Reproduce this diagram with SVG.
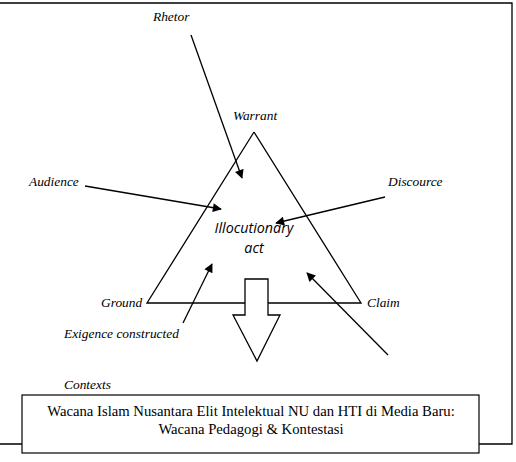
<svg xmlns="http://www.w3.org/2000/svg" width="516" height="462" viewBox="0 0 516 462">
<style>
.lbl{font-family:"Liberation Serif","Times New Roman",serif;font-style:italic;font-size:13.4px;fill:#000}
.ln{stroke:#000;stroke-width:1.3;fill:none}
.cap{font-family:"Liberation Serif",serif;font-size:14.7px;fill:#000}
.il{font-family:"Open Sans",sans-serif;font-style:italic;font-size:14.3px;fill:#000}
</style>
<defs>
<marker id="ah" viewBox="0 0 10 10" refX="9" refY="5" markerWidth="10" markerHeight="9" markerUnits="userSpaceOnUse" orient="auto">
<path d="M0,0 L10,5 L0,10 Z" fill="#000"/>
</marker>
</defs>
<rect width="516" height="462" fill="#fff"/>
<g id="frame">
<path class="ln" d="M0,3 H512 V444 H479 M22,444 H0" stroke-width="1.2"/>
</g>
<g id="triangle">
<path class="ln" d="M254,132 L361,303 L268,303 M245,303 L147,303 L254,132"/>
</g>
<g id="block-arrow">
<path class="ln" d="M245,279 H268 V315 H280 L257,361 L233,315 H245 Z"/>
</g>
<g id="center">
<text class="il" x="254" y="233" text-anchor="middle">Illocutionary</text>
<text class="il" x="254" y="253" text-anchor="middle">act</text>
</g>
<g id="rhetor"><text class="lbl" x="153" y="21">Rhetor</text></g>
<g id="warrant"><text class="lbl" x="233" y="120">Warrant</text></g>
<g id="audience"><text class="lbl" x="29" y="186">Audience</text></g>
<g id="discource"><text class="lbl" x="388" y="186">Discource</text></g>
<g id="ground"><text class="lbl" x="101" y="307">Ground</text></g>
<g id="claim"><text class="lbl" x="367" y="307">Claim</text></g>
<g id="exigence"><text class="lbl" x="64" y="338">Exigence constructed</text></g>
<g id="contexts"><text class="lbl" x="64" y="389">Contexts</text></g>
<g id="caption">
<rect x="22" y="395" width="457" height="58" fill="#fff" stroke="#000" stroke-width="1.2"/>
<text class="cap" x="251" y="416" text-anchor="middle">Wacana Islam Nusantara Elit Intelektual NU dan HTI di Media Baru:</text>
<text class="cap" x="251" y="434" text-anchor="middle">Wacana Pedagogi &amp; Kontestasi</text>
</g>
<g id="connectors">
<line class="ln" x1="191" y1="35" x2="242" y2="178" marker-end="url(#ah)"/>
<line class="ln" x1="85" y1="186" x2="221" y2="209" marker-end="url(#ah)"/>
<line class="ln" x1="385" y1="197" x2="276" y2="223" marker-end="url(#ah)"/>
<line class="ln" x1="183" y1="323" x2="212" y2="264" marker-end="url(#ah)"/>
<line class="ln" x1="388" y1="355" x2="307" y2="273" marker-end="url(#ah)"/>
</g>
</svg>
